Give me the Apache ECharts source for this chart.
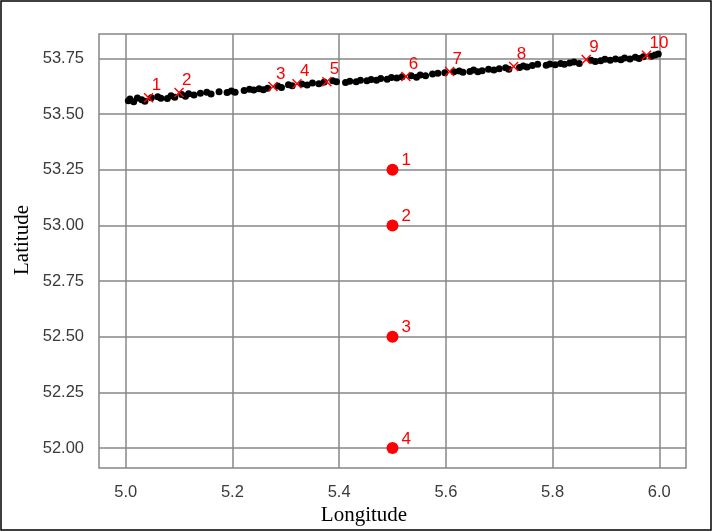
<!DOCTYPE html>
<html>
<head>
<meta charset="utf-8">
<script src="https://cdn.jsdelivr.net/npm/echarts@6/dist/echarts.min.js"></script>
<style>
  html,body{margin:0;padding:0;background:#fff;}
  #chart{width:713px;height:532px;}
</style>
</head>
<body>
<div id="chart"></div>
<script>
// track points (black dots)
var trackPoints = [
  [5.005,53.560],[5.008,53.568],[5.015,53.556],[5.022,53.572],[5.030,53.565],[5.036,53.558],
  [5.048,53.574],[5.060,53.578],[5.066,53.571],[5.078,53.570],[5.085,53.582],[5.092,53.576],
  [5.105,53.588],[5.112,53.580],[5.118,53.592],[5.128,53.586],[5.140,53.594],[5.152,53.598],
  [5.160,53.590],[5.175,53.600],[5.190,53.597],[5.198,53.604],[5.205,53.598],[5.222,53.606],
  [5.232,53.612],[5.240,53.608],[5.250,53.614],[5.258,53.610],[5.266,53.616],[5.285,53.626],
  [5.292,53.620],[5.305,53.632],[5.312,53.627],[5.330,53.635],[5.340,53.631],[5.350,53.640],
  [5.362,53.637],[5.372,53.644],[5.388,53.650],[5.395,53.645],[5.412,53.642],[5.420,53.648],
  [5.432,53.645],[5.440,53.652],[5.452,53.650],[5.460,53.656],[5.470,53.652],[5.478,53.660],
  [5.490,53.657],[5.498,53.665],[5.508,53.662],[5.518,53.668],[5.535,53.672],[5.545,53.666],
  [5.552,53.676],[5.562,53.672],[5.575,53.680],[5.585,53.684],[5.598,53.686],[5.615,53.690],
  [5.625,53.694],[5.632,53.688],[5.645,53.692],[5.652,53.698],[5.660,53.690],[5.668,53.695],
  [5.680,53.702],[5.690,53.698],[5.700,53.704],[5.712,53.708],[5.718,53.702],[5.738,53.710],
  [5.745,53.716],[5.752,53.712],[5.762,53.718],[5.772,53.724],[5.788,53.720],[5.795,53.725],
  [5.805,53.722],[5.815,53.728],[5.822,53.724],[5.832,53.730],[5.840,53.734],[5.850,53.728],
  [5.872,53.742],[5.880,53.736],[5.890,53.740],[5.898,53.746],[5.908,53.742],[5.918,53.748],
  [5.928,53.744],[5.935,53.752],[5.945,53.748],[5.955,53.756],[5.962,53.750],[5.970,53.758],
  [5.985,53.760],[5.992,53.766],[5.998,53.770]
];

// red crosses on the track
var crossLon = [5.043,5.100,5.276,5.321,5.377,5.525,5.607,5.727,5.863,5.976];
var crossLat = [53.574,53.597,53.624,53.637,53.646,53.669,53.691,53.714,53.745,53.764];
var crossNames = ['1','2','3','4','5','6','7','8','9','10'];

// red points below
var pointLon = [5.5,5.5,5.5,5.5];
var pointLat = [53.25,53.0,52.5,52.0];
var pointNames = ['1','2','3','4'];

var xTicks = [5.0,5.2,5.4,5.6,5.8,6.0];
var yTicks = [52.0,52.25,52.5,52.75,53.0,53.25,53.5,53.75];

var gridColor = '#878787';
var red = '#ff0000';
var crossPath = 'path://M1,0 L5,4 L9,0 L10,1 L6,5 L10,9 L9,10 L5,6 L1,10 L0,9 L4,5 L0,1 Z';

var chart = echarts.init(document.getElementById('chart'));
var option = {
    animation:false,
    backgroundColor:'#fff',
    grid:{
        left:99, right:27, top:34, bottom:64,
        show:true, borderColor:gridColor, borderWidth:1.5
    },
    xAxis:{
        type:'value', min:4.95, max:6.05,
        axisLine:{show:false},
        axisTick:{show:false, customValues:xTicks},
        axisLabel:{
            customValues:xTicks, margin:16,
            fontFamily:'Liberation Sans', fontSize:16.5, color:'#3a3a3a',
            formatter:function(v){return v.toFixed(1);}
        },
        splitLine:{show:true, lineStyle:{color:gridColor, width:1.5}}
    },
    yAxis:{
        type:'value', min:51.91, max:53.86,
        axisLine:{show:false},
        axisTick:{show:false, customValues:yTicks},
        axisLabel:{
            customValues:yTicks, margin:15,
            fontFamily:'Liberation Sans', fontSize:16.5, color:'#3a3a3a',
            formatter:function(v){return v.toFixed(2);}
        },
        splitLine:{show:true, lineStyle:{color:gridColor, width:1.5}}
    },
    graphic:[
        {type:'rect', shape:{x:1, y:1, width:710, height:529}, style:{fill:'none', stroke:'#000', lineWidth:1.5}, silent:true},
        {type:'text', x:364, y:515, style:{text:'Longitude', fontFamily:'Liberation Serif', fontSize:21, fill:'#000', textAlign:'center', textVerticalAlign:'middle'}},
        {type:'text', x:22, y:240, rotation:Math.PI/2, style:{text:'Latitude', fontFamily:'Liberation Serif', fontSize:21, fill:'#000', textAlign:'center', textVerticalAlign:'middle'}}
    ],
    series:[
        {
            type:'scatter', symbolSize:7,
            itemStyle:{color:'#000', opacity:1},
            data:trackPoints
        },
        {
            type:'scatter', symbol:crossPath, symbolSize:10,
            itemStyle:{color:red, opacity:1},
            label:{
                show:true, position:'right', distance:0, offset:[-2,-12],
                fontFamily:'Liberation Sans', fontSize:17, color:red,
                formatter:function(p){return p.name;}
            },
            data:crossLon.map(function(v,i){return {name:crossNames[i], value:[v,crossLat[i]]};}),
            z:3
        },
        {
            type:'scatter', symbolSize:12,
            itemStyle:{color:red, opacity:1},
            label:{
                show:true, position:'right', distance:3, offset:[0,-9],
                fontFamily:'Liberation Sans', fontSize:17, color:red,
                formatter:function(p){return p.name;}
            },
            data:pointLon.map(function(v,i){return {name:pointNames[i], value:[v,pointLat[i]]};}),
            z:3
        }
    ]
};
chart.setOption(option);
</script>
</body>
</html>
